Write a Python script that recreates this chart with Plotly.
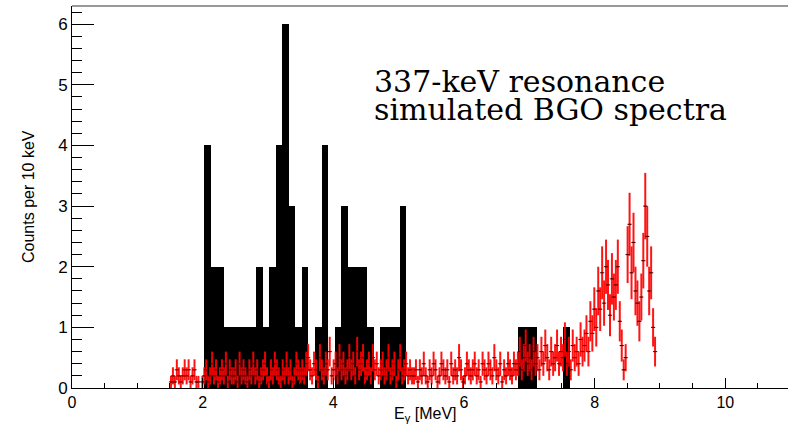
import numpy as np
import plotly.graph_objects as go

# ---------------- data ----------------
# black histogram (0.1 MeV bins)
black_start = 2.02
black_width = 0.1
black_counts = [4, 2, 2, 1, 1, 1, 1, 1, 2, 1, 2, 4, 6, 3, 1, 2, 0, 1, 4, 0,
                1, 3, 2, 2, 2, 1, 0, 1, 1, 1, 3,
                0, 0, 0, 0, 0, 0, 0, 0, 0, 0, 0, 0, 0, 0, 0, 0, 0,
                1, 1, 1, 0, 0, 0, 0, 1]

# red simulated spectrum (0.03 MeV bins, counts scaled by red_scale)
red_start = 1.50
red_width = 0.03
red_scale = 0.1
red_counts = (
    # 1.50 - 2.01
    [1, 2, 1, 3, 2, 1, 2, 3, 2, 3, 1, 2, 3, 1, 1, 0, 1]
    # 2.01 - 3.51
    + [2, 3, 1, 2, 4, 2, 3, 1, 2, 3, 2, 4, 1, 3, 2, 2, 3, 1, 4, 2,
       3, 2, 1, 3, 2, 4, 2, 3, 1, 2, 3, 4, 2, 1, 3, 2, 4, 3, 2, 1,
       3, 2, 4, 2, 3, 1, 2, 4, 3, 2]
    # 3.51 - 5.22
    + [3, 2, 4, 5, 3, 2, 4, 3, 1, 5, 3, 2, 4, 3, 6, 2, 3, 4, 2, 5,
       3, 4, 2, 3, 5, 3, 4, 2, 6, 3, 4, 5, 2, 3, 4, 2, 5, 3, 4, 2,
       3, 4, 2, 3, 5, 2, 3, 4, 1, 3, 5, 2, 3, 4, 2, 3, 2]
    # 5.22 - 6.81
    + [2, 3, 1, 3, 2, 4, 2, 1, 3, 2, 4, 3, 1, 2, 4, 3, 2, 3, 1, 4,
       2, 3, 2, 5, 3, 1, 2, 4, 3, 2, 3, 4, 2, 3, 1, 4, 3, 2, 4, 3,
       2, 5, 3, 2, 4, 1, 3, 2, 4, 3, 2, 4, 3]
    # 6.81 - 7.83
    + [4, 6, 3, 5, 7, 4, 5, 3, 6, 4, 5, 3, 6, 4, 7, 5, 3, 6, 4, 5,
       7, 4, 6, 5, 8, 4, 6, 3, 7, 5, 6, 4, 8, 6]
    # 7.83 - 8.31
    + [7, 9, 6, 11, 9, 13, 10, 16, 13, 19, 14, 20, 17, 12, 18, 15]
    # 8.31 - 8.49
    + [17, 20, 11, 7, 3, 5]
    # 8.49 - 8.94
    + [22, 27, 19, 24, 16, 14, 11, 15, 21, 30, 25, 16, 19, 10, 6]
)

x_ticks = [0, 2, 4, 6, 8, 10]
y_ticks = [0, 1, 2, 3, 4, 5, 6]

# ---------------- derived ----------------
bc = np.array(black_counts, dtype=float)
bx = black_start + black_width * (np.arange(len(bc)) + 0.5)

rc = np.array(red_counts, dtype=float)
rx_all = red_start + red_width * (np.arange(len(rc)) + 0.5)
mask = rc > 0
rx = rx_all[mask]
ry = rc[mask] * red_scale
rerr = np.sqrt(rc[mask]) * red_scale

fig = go.Figure()
fig.add_trace(go.Bar(
    x=bx, y=bc, width=black_width,
    marker=dict(color="black", line=dict(width=0)),
    showlegend=False, hoverinfo="skip",
))
fig.add_trace(go.Scatter(
    x=rx, y=ry, mode="markers",
    marker=dict(symbol="line-ew", size=3, color="#300000",
                line=dict(width=1, color="#400000")),
    error_y=dict(type="data", array=rerr, visible=True,
                 color="rgba(255,0,0,0.92)", thickness=2, width=0),
    error_x=dict(type="constant", value=red_width / 2, visible=True,
                 color="rgba(240,0,0,0.95)", thickness=1.2, width=0),
    showlegend=False, hoverinfo="skip",
))

font_axis = "Liberation Sans, Arial, sans-serif"

fig.update_layout(
    width=788, height=426,
    margin=dict(l=72, r=0, t=6, b=38),
    paper_bgcolor="white", plot_bgcolor="white",
    bargap=0,
    xaxis=dict(
        range=[0, 10.96], showline=True, linecolor="black", linewidth=1,
        mirror=False, showgrid=False, zeroline=False,
        tickmode="array", tickvals=x_ticks,
        ticks="inside", ticklen=10, tickcolor="black", tickwidth=1,
        minor=dict(dtick=0.5, ticks="inside", ticklen=5, tickcolor="black"),
        tickfont=dict(family=font_axis, size=16, color="black"),
    ),
    yaxis=dict(
        range=[0, 6.3], showline=True, linecolor="black", linewidth=1,
        mirror=False, showgrid=False, zeroline=False,
        tickmode="array", tickvals=y_ticks,
        ticks="inside", ticklen=22, tickcolor="black", tickwidth=1,
        minor=dict(dtick=0.2, ticks="inside", ticklen=10, tickcolor="black"),
        tickfont=dict(family=font_axis, size=17, color="black"),
    ),
    shapes=[dict(type="line", xref="paper", yref="paper", x0=0, x1=1,
                 y0=1, y1=1, line=dict(color="#333333", width=1))],
    annotations=[
        dict(text="Counts per 10 keV", textangle=-90, xref="paper", yref="paper",
             x=(28 - 72) / 716, y=0.5, showarrow=False,
             xanchor="center", yanchor="middle",
             font=dict(family=font_axis, size=16, color="black")),
        dict(text="E<sub>γ</sub> [MeV]", xref="paper", yref="paper",
             x=(425 - 72) / 716, y=-(414 - 388) / 382, showarrow=False,
             xanchor="center", yanchor="middle",
             font=dict(family=font_axis, size=16, color="black")),
        dict(text="337-keV resonance", xref="paper", yref="paper",
             x=(372 - 72) / 716, y=(388 - 81) / 382, showarrow=False,
             xanchor="left", yanchor="middle",
             font=dict(family="DejaVu Serif, serif", size=30, color="black")),
        dict(text="simulated BGO spectra", xref="paper", yref="paper",
             x=(372 - 72) / 716, y=(388 - 110) / 382, showarrow=False,
             xanchor="left", yanchor="middle",
             font=dict(family="DejaVu Serif, serif", size=30, color="black")),
    ],
)

fig.write_html("out.html")
